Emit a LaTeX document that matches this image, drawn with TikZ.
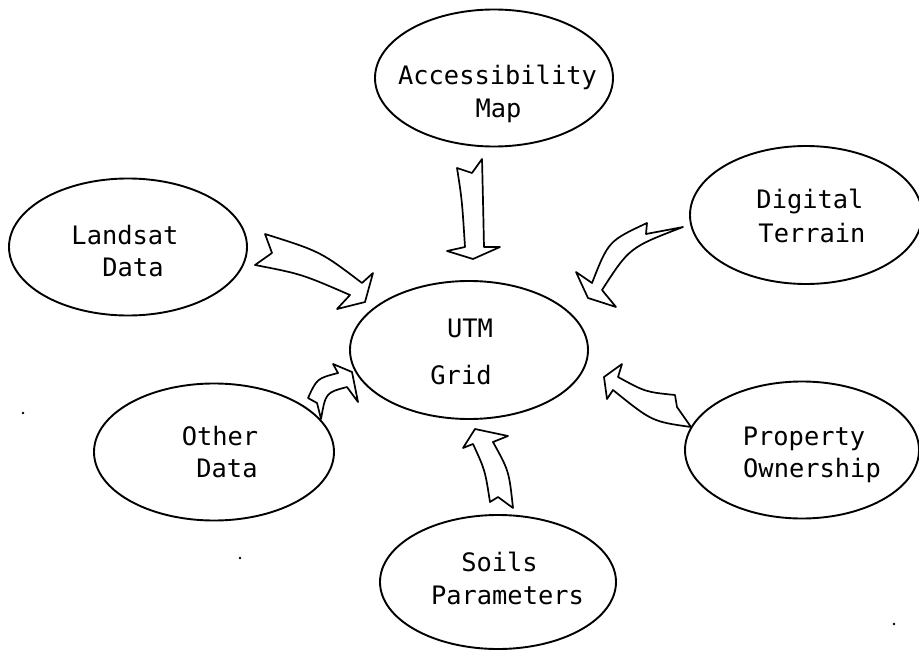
\documentclass[tikz,border=0pt]{standalone}
\usepackage{fontspec}
\newfontfamily\diagfont{DejaVu Sans Mono}
\usetikzlibrary{shapes.geometric}
\tikzset{
  bubble/.style={ellipse, draw, line width=1.9pt, inner sep=0pt, minimum width=238pt, minimum height=137pt},
  lbl/.style={anchor=base, inner sep=0pt, font=\diagfont\fontsize{25.4}{30}\selectfont},
  blockarrow/.style={draw, line width=1.7pt, line join=round, fill=white}
}
\begin{document}
\begin{tikzpicture}[x=1pt,y=-1pt]
\useasboundingbox (0,0) rectangle (919,650);
% ellipses
\node[bubble] (acc) at (494,78) {};
\node[bubble, minimum width=232pt, minimum height=138pt] (dig) at (806,215) {};
\node[bubble] (lan) at (128,247) {};
\node[bubble, minimum height=138pt] (utm) at (469,350) {};
\node[bubble, minimum width=240pt] (oth) at (214,452) {};
\node[bubble, minimum width=234pt] (pro) at (802,450) {};
\node[bubble, minimum width=236pt, minimum height=134pt] (soi) at (498,582) {};
% labels
\node[lbl] (accA) at (497.5,85) {Accessibility};
\node[lbl] (accB) at (498.5,118) {Map};
\node[lbl] (digA) at (810,208) {Digital};
\node[lbl] (digB) at (812,242) {Terrain};
\node[lbl] (lanA) at (125,244) {Landsat};
\node[lbl] (lanB) at (133,276) {Data};
\node[lbl] (utmA) at (470,337) {UTM};
\node[lbl] (utmB) at (461,384) {Grid};
\node[lbl] (othA) at (220,445) {Other};
\node[lbl] (othB) at (227,477) {Data};
\node[lbl] (proA) at (804,445) {Property};
\node[lbl] (proB) at (812,477) {Ownership};
\node[lbl] (soiA) at (499.5,571) {Soils};
\node[lbl] (soiB) at (507.5,604) {Parameters};
% block arrows
% Accessibility -> UTM
\draw[blockarrow] (457,168) -- (472,173) -- (482,159)
  .. controls (483,200) .. (484,247) -- (500,247) -- (473,259) -- (447,251) -- (465,247)
  .. controls (462,200) .. cycle;
% Landsat -> UTM
\draw[blockarrow] (265,234) .. controls (320.5,251.5) .. (362,283) -- (373,273) -- (365,302)
  -- (337,309) -- (350,295) .. controls (301.5,274) .. (255,265) -- (272,253) -- cycle;
% Digital -> UTM
\draw[blockarrow] (647,223) .. controls (608.5,241) .. (592,283) -- (576,272) -- (588,298)
  -- (616,307) -- (602,290) .. controls (629.5,247.5) .. (683,227) -- (646,234) -- cycle;
% Other -> UTM
\draw[blockarrow] (308,398) .. controls (317,378.5) .. (338,373) -- (333,364) -- (352,372)
  -- (358,402) -- (347,387) .. controls (325.7,392.7) .. (321,419) -- (317,403) -- cycle;
% Property -> UTM
\draw[blockarrow] (675,395) .. controls (645.5,392) .. (618,377) -- (622,364) -- (604,377)
  -- (607,399) -- (613,390) .. controls (652,421.5) .. (691,427) -- (677,407) -- cycle;
% Soils -> UTM
\draw[blockarrow] (490,502) .. controls (485,470) .. (473,444) -- (463,448) -- (475,429)
  -- (508,436) -- (493,442) .. controls (509,471) .. (513,508) -- (498,497) -- cycle;
% specks
\fill (23,413) circle (1.4pt);
\fill (240,558) circle (1.4pt);
\fill (894,624) circle (1.4pt);
\end{tikzpicture}
\end{document}
